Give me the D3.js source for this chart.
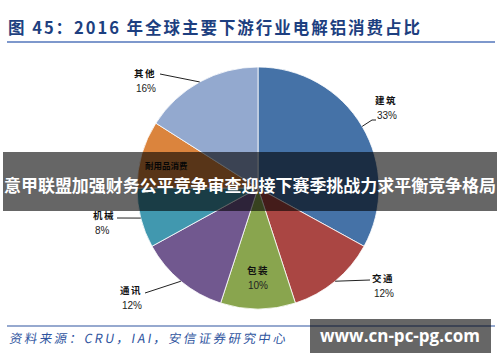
<!DOCTYPE html>
<html>
<head>
<meta charset="utf-8">
<script src="https://cdn.jsdelivr.net/npm/d3@7"></script>
<style>
  body { margin: 0; background: #fff; }
  svg { display: block; }
</style>
</head>
<body>
<div id="chart"></div>
<script>
// data
const categories = ["建筑", "交通", "包装", "通讯", "机械", "耐用品消费", "其他"];
const shares = [33, 12, 10, 12, 8, 9, 16];
const colors = ["#4572A7", "#AA4643", "#89A54E", "#71588F", "#4198AF", "#DB843D", "#93A9CF"];

const Width = 500, Height = 362;
const CX = 258, CY = 188, R = 121;

const svg = d3.select("#chart").append("svg")
    .attr("width", Width).attr("height", Height);

// title + rule
svg.append("text").attr("x", 8).attr("y", 34)
    .attr("font-family", "Noto Sans CJK SC, sans-serif")
    .attr("font-weight", "bold").attr("font-size", 16.5)
    .attr("fill", "#1d3f80")
    .attr("textLength", 412).attr("lengthAdjust", "spacing")
    .text("图 45：2016 年全球主要下游行业电解铝消费占比");
svg.append("line").attr("x1", 7).attr("x2", 495).attr("y1", 42).attr("y2", 42)
    .attr("stroke", "#7e98cc").attr("stroke-width", 2);

// pie
const pie = d3.pie().sort(null).value(d => d);
const arcs = pie(shares);
const arc = d3.arc().innerRadius(0).outerRadius(R);

const plot = svg.append("g").attr("transform", `translate(${CX},${CY})`);
plot.selectAll("path").data(arcs).join("path")
    .attr("d", arc)
    .attr("fill", (d, i) => colors[i])
    .attr("stroke", "#fff").attr("stroke-width", 0.8);

// label layout; the 耐用品消费 value sits under the banner, hidden in the reference
const labelPos = {
    "建筑": {x: 375, y: 104, lx: 372, ly: 120, ex: 376},
    "交通": {x: 372, y: 282, lx: 370, ly: 280, ex: 370},
    "包装": {x: 258, y: 274, inside: true},
    "通讯": {x: 120, y: 294, lx: 145, ly: 293, ex: 145},
    "机械": {x: 93, y: 219, lx: 117, ly: 218, ex: 117},
    "耐用品消费": {x: 145, y: 169, inside: true, left: true, hidePct: true},
    "其他": {x: 134, y: 77, lx: 160, ly: 74, ex: 160}
};

const labels = svg.append("g");
arcs.forEach((d, i) => {
    const name = categories[i];
    const p = labelPos[name];
    const mid = (d.startAngle + d.endAngle) / 2;
    const ax = CX + Math.sin(mid) * R, ay = CY - Math.cos(mid) * R;
    if (!p.inside) {
        labels.append("polyline")
            .attr("points", `${ax},${ay} ${p.lx},${p.ly} ${p.ex},${p.ly}`)
            .attr("fill", "none").attr("stroke", "#222").attr("stroke-width", 1);
    }
    const anchor = p.inside && !p.left ? "middle" : "start";
    labels.append("text").attr("x", p.x).attr("y", p.y)
        .attr("text-anchor", anchor)
        .attr("font-family", "Noto Sans CJK SC, sans-serif")
        .attr("font-size", p.left ? 8.5 : 9.5).attr("font-weight", "bold").attr("fill", "#111")
        .attr("letter-spacing", p.left ? 0 : 1.5)
        .text(name);
    if (p.hidePct) return;
    labels.append("text").attr("x", p.inside && !p.left ? p.x : p.x + 2).attr("y", p.y + 15)
        .attr("text-anchor", anchor)
        .attr("font-family", "Liberation Sans, Arial, sans-serif")
        .attr("font-size", 10).attr("fill", "#222")
        .text(shares[i] + "%");
});

// overlay banner
svg.append("rect").attr("x", 3).attr("y", 152).attr("width", 494).attr("height", 59)
    .attr("fill", "rgba(0,0,0,0.6)");
svg.append("text").attr("x", 250).attr("y", 192)
    .attr("text-anchor", "middle")
    .attr("font-family", "Noto Sans CJK SC, sans-serif")
    .attr("font-weight", "bold").attr("font-size", 17)
    .attr("fill", "#fff")
    .attr("textLength", 492).attr("lengthAdjust", "spacingAndGlyphs")
    .text("意甲联盟加强财务公平竞争审查迎接下赛季挑战力求平衡竞争格局");

// source footer
svg.append("line").attr("x1", 7).attr("x2", 495).attr("y1", 326).attr("y2", 326)
    .attr("stroke", "#2f55a0").attr("stroke-width", 1.2);
svg.append("text").attr("x", 9).attr("y", 343)
    .attr("font-family", "Noto Sans CJK SC, sans-serif")
    .attr("font-size", 12.5)
    .attr("fill", "#2f55a0")
    .attr("textLength", 276).attr("lengthAdjust", "spacing")
    .attr("transform", "translate(60.5,0) skewX(-10)")
    .text("资料来源：CRU，IAI，安信证券研究中心");

// watermark
svg.append("rect").attr("x", 310).attr("y", 319).attr("width", 181).attr("height", 34)
    .attr("fill", "rgba(0,0,0,0.6)");
svg.append("text").attr("x", 400).attr("y", 342)
    .attr("text-anchor", "middle")
    .attr("font-family", "Open Sans, sans-serif")
    .attr("font-weight", "bold").attr("font-size", 17)
    .attr("fill", "#fff")
    .text("www.cn-pc-pg.com");
</script>
</body>
</html>
